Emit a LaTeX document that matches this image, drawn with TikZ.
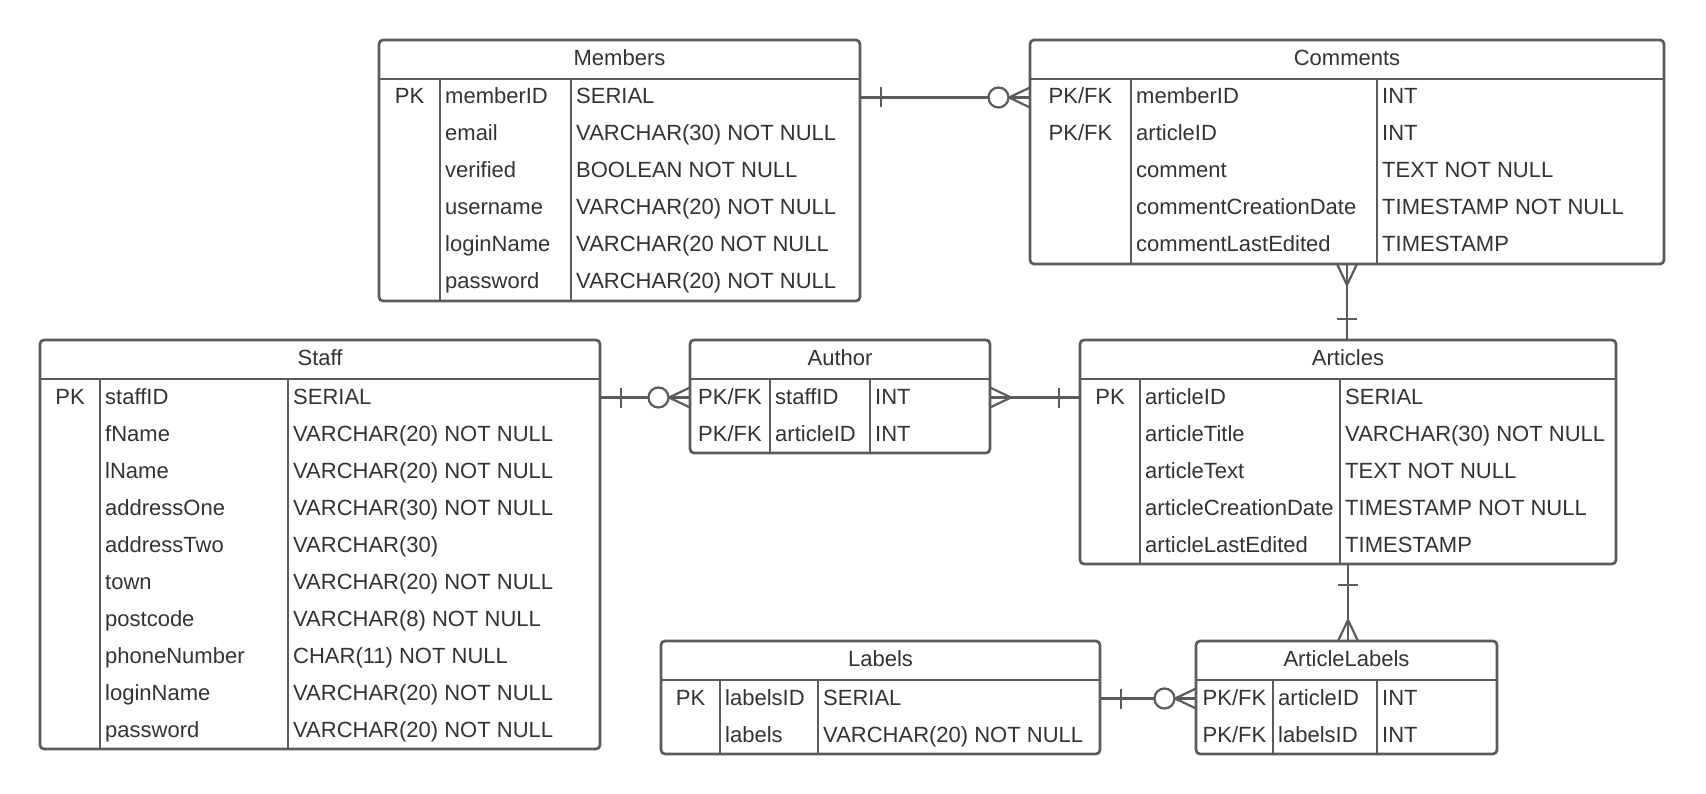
\documentclass[tikz,border=0pt]{standalone}
\usepackage{fontspec}
\setmainfont{Liberation Sans}
\usetikzlibrary{calc}
\definecolor{erline}{HTML}{5B5B5B}
\definecolor{ertext}{HTML}{333333}
\tikzset{
  entbox/.style={draw=erline, line width=2.7pt, fill=white, rounded corners=4pt, inner sep=0pt, outer sep=0pt},
  entsep/.style={draw=erline, line width=2.7pt},
  conn/.style={draw=erline, line width=2.2pt},
  lbl/.style={text=ertext, font=\fontsize{22}{26}\selectfont, inner sep=0pt},
}
% #1 name, #2 left, #3 top, #4 right, #5 rows, #6 divider 1, #7 divider 2, #8 title
\newcommand\erent[8]{%
  \pgfmathsetmacro\ertop{#3}%
  \pgfmathsetmacro\erleft{#2}%
  \pgfmathsetmacro\erdA{#6}%
  \pgfmathsetmacro\erdB{#7}%
  \pgfmathsetmacro\erbot{#3+39+37*#5}%
  \node[entbox, anchor=north west, minimum width={#4-#2}, minimum height={\erbot-#3}] (#1) at (#2,#3) {};
  \draw[entsep] ([yshift=-39pt]#1.north west) -- ([yshift=-39pt]#1.north east);
  \draw[entsep] (#6,#3+39) -- (#6,\erbot);
  \draw[entsep] (#7,#3+39) -- (#7,\erbot);
  \node[lbl, anchor=base] (#1-title) at ({(#2+#4)/2},#3+25.5) {#8};
}
% #1 id, #2 row, #3 key, #4 field, #5 type
\newcommand\errow[5]{%
  \pgfmathsetmacro\ery{\ertop+39+37*(#2-1)+18.5}%
  \coordinate (#1-#2) at (\erleft,\ery);
  \def\erpk{#3}%
  \ifx\erpk\empty\else
    \node[lbl, anchor=base] (#1-#2-pk) at ({(\erleft+\erdA)/2},\ery+6.5) {#3};
  \fi
  \node[lbl, anchor=base west] (#1-#2-f) at (\erdA+5,\ery+6.5) {#4};
  \node[lbl, anchor=base west] (#1-#2-t) at (\erdB+5,\ery+6.5) {#5};
}
\newcommand\erTickH[2]{\draw[conn] ($(#1)+(#2,-10)$) -- ($(#1)+(#2,10)$);}
\newcommand\erTickV[2]{\draw[conn] ($(#1)+(-10,#2)$) -- ($(#1)+(10,#2)$);}
\newcommand\erFootH[2]{\draw[conn] ($(#1)+(0,-10)$) -- ($(#1)+(#2,0)$) -- ($(#1)+(0,10)$);}
\newcommand\erFootV[2]{\draw[conn] ($(#1)+(-10,0)$) -- ($(#1)+(0,#2)$) -- ($(#1)+(10,0)$);}
\newcommand\erRingH[2]{\draw[conn, fill=white] ($(#1)+(#2,0)$) circle[radius=10pt];}
\begin{document}
\begin{tikzpicture}[x=1pt, y=-1pt]
\useasboundingbox[fill=white] (0,0) rectangle (1706,794);

% Members
\erent{members}{379}{40}{860}{6}{440}{571}{Members}
\errow{members}{1}{PK}{memberID}{SERIAL}
\errow{members}{2}{}{email}{VARCHAR(30) NOT NULL}
\errow{members}{3}{}{verified}{BOOLEAN NOT NULL}
\errow{members}{4}{}{username}{VARCHAR(20) NOT NULL}
\errow{members}{5}{}{loginName}{VARCHAR(20 NOT NULL}
\errow{members}{6}{}{password}{VARCHAR(20) NOT NULL}

% Comments
\erent{comments}{1030}{40}{1664}{5}{1131}{1377}{Comments}
\errow{comments}{1}{PK/FK}{memberID}{INT}
\errow{comments}{2}{PK/FK}{articleID}{INT}
\errow{comments}{3}{}{comment}{TEXT NOT NULL}
\errow{comments}{4}{}{commentCreationDate}{TIMESTAMP NOT NULL}
\errow{comments}{5}{}{commentLastEdited}{TIMESTAMP}

% Staff
\erent{staff}{40}{340}{600}{10}{100}{288}{Staff}
\errow{staff}{1}{PK}{staffID}{SERIAL}
\errow{staff}{2}{}{fName}{VARCHAR(20) NOT NULL}
\errow{staff}{3}{}{lName}{VARCHAR(20) NOT NULL}
\errow{staff}{4}{}{addressOne}{VARCHAR(30) NOT NULL}
\errow{staff}{5}{}{addressTwo}{VARCHAR(30)}
\errow{staff}{6}{}{town}{VARCHAR(20) NOT NULL}
\errow{staff}{7}{}{postcode}{VARCHAR(8) NOT NULL}
\errow{staff}{8}{}{phoneNumber}{CHAR(11) NOT NULL}
\errow{staff}{9}{}{loginName}{VARCHAR(20) NOT NULL}
\errow{staff}{10}{}{password}{VARCHAR(20) NOT NULL}

% Author
\erent{author}{690}{340}{990}{2}{770}{870}{Author}
\errow{author}{1}{PK/FK}{staffID}{INT}
\errow{author}{2}{PK/FK}{articleID}{INT}

% Articles
\erent{articles}{1080}{340}{1616}{5}{1140}{1340}{Articles}
\errow{articles}{1}{PK}{articleID}{SERIAL}
\errow{articles}{2}{}{articleTitle}{VARCHAR(30) NOT NULL}
\errow{articles}{3}{}{articleText}{TEXT NOT NULL}
\errow{articles}{4}{}{articleCreationDate}{TIMESTAMP NOT NULL}
\errow{articles}{5}{}{articleLastEdited}{TIMESTAMP}

% Labels
\erent{labels}{661}{641}{1100}{2}{720}{818}{Labels}
\errow{labels}{1}{PK}{labelsID}{SERIAL}
\errow{labels}{2}{}{labels}{VARCHAR(20) NOT NULL}

% ArticleLabels
\erent{artlabels}{1196}{641}{1497}{2}{1273}{1377}{ArticleLabels}
\errow{artlabels}{1}{PK/FK}{articleID}{INT}
\errow{artlabels}{2}{PK/FK}{labelsID}{INT}

% Members -- Comments
\coordinate (mc-a) at (members-1 -| members.east);
\coordinate (mc-b) at (members-1 -| comments.west);
\draw[conn] (mc-a) -- (mc-b);
\erTickH{mc-a}{21}
\erFootH{mc-b}{-21}
\erRingH{mc-b}{-31.5}

% Staff -- Author
\coordinate (sa-a) at (staff-1 -| staff.east);
\coordinate (sa-b) at (staff-1 -| author.west);
\draw[conn] (sa-a) -- (sa-b);
\erTickH{sa-a}{21}
\erFootH{sa-b}{-21}
\erRingH{sa-b}{-31.5}

% Author -- Articles
\coordinate (aa-a) at (author-1 -| author.east);
\coordinate (aa-b) at (author-1 -| articles.west);
\draw[conn] (aa-a) -- (aa-b);
\erFootH{aa-a}{21}
\erTickH{aa-b}{-21}

% Comments -- Articles
\coordinate (ca-a) at (comments.south);
\coordinate (ca-b) at (comments.south |- articles.north);
\draw[conn] (ca-a) -- (ca-b);
\erFootV{ca-a}{21}
\erTickV{ca-b}{-21}

% Articles -- ArticleLabels
\coordinate (al-a) at (articles.south);
\coordinate (al-b) at (articles.south |- artlabels.north);
\draw[conn] (al-a) -- (al-b);
\erTickV{al-a}{21}
\erFootV{al-b}{-21}

% Labels -- ArticleLabels
\coordinate (la-a) at (labels-1 -| labels.east);
\coordinate (la-b) at (labels-1 -| artlabels.west);
\draw[conn] (la-a) -- (la-b);
\erTickH{la-a}{21}
\erFootH{la-b}{-21}
\erRingH{la-b}{-31.5}
\end{tikzpicture}
\end{document}
